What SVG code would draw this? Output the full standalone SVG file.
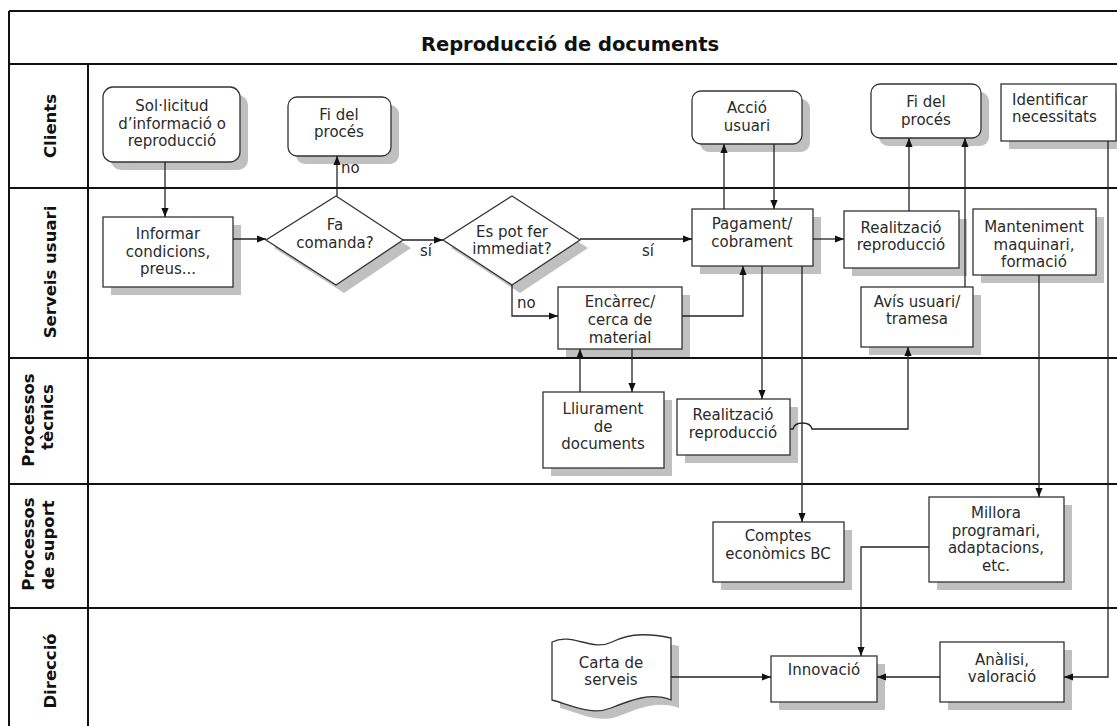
<svg xmlns="http://www.w3.org/2000/svg" width="1117" height="726" viewBox="0 0 1117 726">
  <style>
    .bg { fill: #ffffff; }
    .lane { stroke: #111111; stroke-width: 2; fill: none; }
    .box { fill: #ffffff; stroke: #333333; stroke-width: 1.3; }
    .shadow { fill: #c0c0c0; stroke: none; }
    .t { font-family: "DejaVu Sans", Verdana, sans-serif; font-size: 15px; fill: #2a2a2a; text-anchor: middle; }
    .tl { font-family: "DejaVu Sans", Verdana, sans-serif; font-size: 15px; fill: #2a2a2a; text-anchor: start; }
    .title { font-family: "DejaVu Sans", Verdana, sans-serif; font-size: 19.5px; font-weight: bold; fill: #111111; text-anchor: middle; }
    .lanelabel { font-family: "DejaVu Sans", Verdana, sans-serif; font-size: 16.5px; font-weight: bold; fill: #111111; text-anchor: middle; }
    .conn { fill: none; stroke: #222222; stroke-width: 1.3; marker-end: url(#ah); }
    .line { fill: none; stroke: #222222; stroke-width: 1.3; }
  </style>
  <defs>
    <marker id="ah" viewBox="0 0 10 10" refX="10" refY="5" markerWidth="9" markerHeight="9" markerUnits="userSpaceOnUse" orient="auto">
      <path d="M0,1 L10,5 L0,9 z" fill="#111111"/>
    </marker>
  </defs>

  <rect class="bg" x="0" y="0" width="1117" height="726"/>

  <!-- Pool frame and swimlanes -->
  <g id="lanes">
    <path class="lane" d="M9,11 H1117 M9,11 V726 M9,64 H1117 M88,64 V726 M9,188 H1117 M9,358 H1117 M9,484 H1117 M9,608 H1117"/>
    <text class="title" x="570" y="51">Reproducció de documents</text>
    <text class="lanelabel" transform="translate(56,126) rotate(-90)">Clients</text>
    <text class="lanelabel" transform="translate(56,272) rotate(-90)">Serveis usuari</text>
    <text class="lanelabel" transform="translate(34,420) rotate(-90)">Processos</text>
    <text class="lanelabel" transform="translate(53,417) rotate(-90)">tècnics</text>
    <text class="lanelabel" transform="translate(34,544) rotate(-90)">Processos</text>
    <text class="lanelabel" transform="translate(54,545) rotate(-90)">de suport</text>
    <text class="lanelabel" transform="translate(56,671) rotate(-90)">Direcció</text>
  </g>

  <!-- Clients -->
  <g id="solicitud">
    <rect class="shadow" x="111" y="95" width="137" height="75" rx="10"/>
    <rect class="box" x="103" y="87" width="137" height="75" rx="10"/>
    <text class="t" x="172" y="111">Sol·licitud</text>
    <text class="t" x="172" y="129">d’informació o</text>
    <text class="t" x="172" y="146">reproducció</text>
  </g>
  <g id="fi-proces-1">
    <rect class="shadow" x="296" y="105" width="103" height="59" rx="9"/>
    <rect class="box" x="288" y="97" width="103" height="59" rx="9"/>
    <text class="t" x="339" y="120">Fi del</text>
    <text class="t" x="339" y="137">procés</text>
  </g>
  <g id="accio-usuari">
    <rect class="shadow" x="700" y="99" width="110" height="53" rx="9"/>
    <rect class="box" x="692" y="91" width="110" height="53" rx="9"/>
    <text class="t" x="747" y="113">Acció</text>
    <text class="t" x="747" y="131">usuari</text>
  </g>
  <g id="fi-proces-2">
    <rect class="shadow" x="879" y="92" width="110" height="54" rx="9"/>
    <rect class="box" x="871" y="84" width="110" height="54" rx="9"/>
    <text class="t" x="926" y="107">Fi del</text>
    <text class="t" x="926" y="125">procés</text>
  </g>
  <g id="identificar">
    <rect class="shadow" x="1009" y="92" width="115" height="57"/>
    <rect class="box" x="1001" y="84" width="115" height="57"/>
    <text class="tl" x="1012" y="105">Identificar</text>
    <text class="tl" x="1012" y="122">necessitats</text>
  </g>

  <!-- Serveis usuari -->
  <g id="informar">
    <rect class="shadow" x="111" y="225" width="130" height="70"/>
    <rect class="box" x="103" y="217" width="130" height="70"/>
    <text class="t" x="168" y="239">Informar</text>
    <text class="t" x="168" y="257">condicions,</text>
    <text class="t" x="168" y="274">preus...</text>
  </g>
  <g id="fa-comanda">
    <polygon class="shadow" points="344,204 411,248 344,293 274,248"/>
    <polygon class="box" points="336,196 403,240 336,285 266,240"/>
    <text class="t" x="335" y="230">Fa</text>
    <text class="t" x="335" y="248">comanda?</text>
  </g>
  <g id="es-pot-fer">
    <polygon class="shadow" points="520,204 588,248 520,293 451,248"/>
    <polygon class="box" points="512,196 580,240 512,285 443,240"/>
    <text class="t" x="512" y="237">Es pot fer</text>
    <text class="t" x="512" y="254">immediat?</text>
  </g>
  <g id="pagament">
    <rect class="shadow" x="700" y="217" width="121" height="57"/>
    <rect class="box" x="692" y="209" width="121" height="57"/>
    <text class="t" x="752" y="229">Pagament/</text>
    <text class="t" x="752" y="247">cobrament</text>
  </g>
  <g id="encarrec">
    <rect class="shadow" x="566" y="295" width="124" height="62"/>
    <rect class="box" x="558" y="287" width="124" height="62"/>
    <text class="t" x="620" y="307">Encàrrec/</text>
    <text class="t" x="620" y="325">cerca de</text>
    <text class="t" x="620" y="343">material</text>
  </g>
  <g id="realitzacio-1">
    <rect class="shadow" x="852" y="219" width="115" height="57"/>
    <rect class="box" x="844" y="211" width="115" height="57"/>
    <text class="t" x="901" y="233">Realització</text>
    <text class="t" x="901" y="250">reproducció</text>
  </g>
  <g id="manteniment">
    <rect class="shadow" x="981" y="217" width="123" height="66"/>
    <rect class="box" x="973" y="209" width="123" height="66"/>
    <text class="t" x="1034" y="232">Manteniment</text>
    <text class="t" x="1034" y="250">maquinari,</text>
    <text class="t" x="1034" y="267">formació</text>
  </g>
  <g id="avis-usuari">
    <rect class="shadow" x="869" y="295" width="112" height="60"/>
    <rect class="box" x="861" y="287" width="112" height="60"/>
    <text class="t" x="917" y="307">Avís usuari/</text>
    <text class="t" x="917" y="324">tramesa</text>
  </g>

  <!-- Processos tècnics -->
  <g id="lliurament">
    <rect class="shadow" x="551" y="400" width="121" height="76"/>
    <rect class="box" x="543" y="392" width="121" height="76"/>
    <text class="t" x="603" y="414">Lliurament</text>
    <text class="t" x="603" y="432">de</text>
    <text class="t" x="603" y="449">documents</text>
  </g>
  <g id="realitzacio-2">
    <rect class="shadow" x="685" y="407" width="113" height="56"/>
    <rect class="box" x="677" y="399" width="113" height="56"/>
    <text class="t" x="733" y="420">Realització</text>
    <text class="t" x="733" y="438">reproducció</text>
  </g>

  <!-- Processos de suport -->
  <g id="comptes">
    <rect class="shadow" x="721" y="530" width="131" height="60"/>
    <rect class="box" x="713" y="522" width="131" height="60"/>
    <text class="t" x="778" y="541">Comptes</text>
    <text class="t" x="778" y="559">econòmics BC</text>
  </g>
  <g id="millora">
    <rect class="shadow" x="937" y="505" width="135" height="85"/>
    <rect class="box" x="929" y="497" width="135" height="85"/>
    <text class="t" x="996" y="518">Millora</text>
    <text class="t" x="996" y="535.5">programari,</text>
    <text class="t" x="996" y="553">adaptacions,</text>
    <text class="t" x="996" y="570.5">etc.</text>
  </g>

  <!-- Direcció -->
  <g id="carta-serveis">
    <path class="shadow" transform="translate(8,8)" d="M552,642 C572,632 592,652 612,642 C632,632 652,634 671,638 L671,700 C651,692 631,700 611,708 C591,716 571,705 552,700 Z"/>
    <path class="box" d="M552,642 C572,632 592,652 612,642 C632,632 652,634 671,638 L671,700 C651,692 631,700 611,708 C591,716 571,705 552,700 Z"/>
    <text class="t" x="611" y="668">Carta de</text>
    <text class="t" x="611" y="685">serveis</text>
  </g>
  <g id="innovacio">
    <rect class="shadow" x="779" y="664" width="106" height="46"/>
    <rect class="box" x="771" y="656" width="106" height="46"/>
    <text class="t" x="824" y="675">Innovació</text>
  </g>
  <g id="analisi">
    <rect class="shadow" x="948" y="650" width="124" height="60"/>
    <rect class="box" x="940" y="642" width="124" height="60"/>
    <text class="t" x="1002" y="665">Anàlisi,</text>
    <text class="t" x="1002" y="682">valoració</text>
  </g>

  <!-- Connectors -->
  <g id="connectors">
    <path class="conn" d="M165,162 V217"/>
    <path class="conn" d="M233,239 H266"/>
    <path class="conn" d="M337,196 V156"/>
    <path class="conn" d="M403,240 H443"/>
    <path class="conn" d="M580,239 H692"/>
    <path class="conn" d="M512,285 V316 H558"/>
    <path class="conn" d="M682,316 H743 V266"/>
    <path class="conn" d="M724,209 V144"/>
    <path class="conn" d="M774,144 V209"/>
    <path class="conn" d="M813,239 H844"/>
    <path class="conn" d="M909,211 V138"/>
    <path class="conn" d="M965,287 V138"/>
    <path class="conn" d="M762,266 V399"/>
    <path class="conn" d="M802,266 V522"/>
    <path class="conn" d="M632,349 V392"/>
    <path class="conn" d="M580,392 V349"/>
    <path class="conn" d="M790,429 H793 C795,421 810,421 812,429 H908 V347"/>
    <path class="conn" d="M1039,275 V497"/>
    <path class="conn" d="M1108,141 V677 H1064"/>
    <path class="conn" d="M929,547 H861 V656"/>
    <path class="conn" d="M940,677 H877"/>
    <path class="conn" d="M671,677 H771"/>
    <text class="tl" x="341" y="173">no</text>
    <text class="tl" x="420" y="256">sí</text>
    <text class="tl" x="642" y="256">sí</text>
    <text class="tl" x="517" y="308">no</text>
  </g>
</svg>
